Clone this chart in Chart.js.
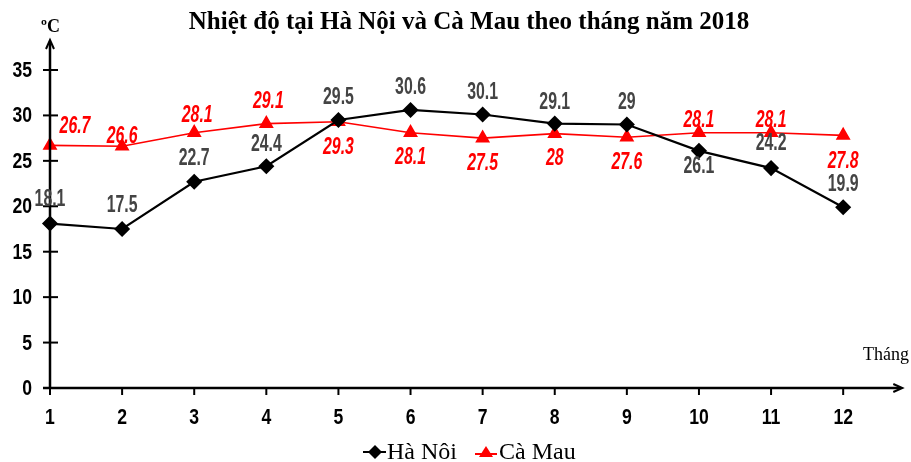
<!DOCTYPE html>
<html>
<head>
<meta charset="utf-8">
<script src="https://cdn.jsdelivr.net/npm/chart.js@4/dist/chart.umd.min.js"></script>
<style>
  html, body { margin: 0; padding: 0; background: #fff; }
  #wrap { width: 911px; height: 462px; }
</style>
</head>
<body>
<div id="wrap"><canvas id="chart"></canvas></div>
<script>
// data
const months = [1, 2, 3, 4, 5, 6, 7, 8, 9, 10, 11, 12];
const haNoi = [18.1, 17.5, 22.7, 24.4, 29.5, 30.6, 30.1, 29.1, 29, 26.1, 24.2, 19.9];
const caMau = [26.7, 26.6, 28.1, 29.1, 29.3, 28.1, 27.5, 28, 27.6, 28.1, 28.1, 27.8];
const yTicks = [0, 5, 10, 15, 20, 25, 30, 35];
const chartTitle = 'Nhiệt độ tại Hà Nội và Cà Mau theo tháng năm 2018';
const legendNames = ['Hà Nôi', 'Cà Mau'];

// label offsets (px) from each point
const haNoiLabelPos = [[0,-24],[0,-24],[0,-23],[0,-22],[0,-23],[0,-23],[0,-22],[0,-21],[0,-22],[0,16],[0,-25],[0,-23]];
const caMauLabelPos = [[25,-19],[0,-10],[3,-17],[2,-22],[0,26],[0,25],[0,25],[0,25],[0,25],[0,-12],[0,-12],[0,26]];

const sans = '"Liberation Sans", Arial, sans-serif';
const serif = '"Liberation Serif", "DejaVu Serif", serif';

// condensed text: squeeze a normal face horizontally
function narrowText(ctx, text, x, y, sx) {
  ctx.save();
  ctx.translate(x, y);
  ctx.scale(sx, 1);
  ctx.fillText(text, 0, 0);
  ctx.restore();
}

const decor = {
  id: 'decor',
  afterDatasetsDraw(chart) {
    const ctx = chart.ctx;
    const xs = chart.scales.x, ys = chart.scales.y;
    const a = chart.chartArea;
    const x0 = xs.getPixelForValue(1), y0 = ys.getPixelForValue(0);
    ctx.save();
    ctx.strokeStyle = '#000';
    ctx.fillStyle = '#000';
    ctx.lineWidth = 2.5;
    // axes
    ctx.beginPath();
    ctx.moveTo(x0, y0); ctx.lineTo(x0, a.top + 2);
    ctx.moveTo(x0 - 7, y0); ctx.lineTo(a.right - 2, y0);
    ctx.stroke();
    ctx.lineWidth = 2;
    ctx.beginPath();
    ctx.moveTo(x0 - 4, a.top + 9); ctx.lineTo(x0, a.top); ctx.lineTo(x0 + 4, a.top + 9);
    ctx.moveTo(a.right - 9, y0 - 4); ctx.lineTo(a.right, y0); ctx.lineTo(a.right - 9, y0 + 4);
    ctx.stroke();
    // y ticks
    ctx.font = 'bold 22px ' + sans;
    ctx.textAlign = 'right';
    ctx.textBaseline = 'middle';
    yTicks.forEach(v => {
      const y = ys.getPixelForValue(v);
      ctx.beginPath(); ctx.moveTo(x0 - 7, y); ctx.lineTo(x0 + 8, y); ctx.stroke();
      narrowText(ctx, String(v), x0 - 18, y + 1, 0.8);
    });
    // x ticks
    ctx.textAlign = 'center';
    months.forEach(m => {
      const x = xs.getPixelForValue(m);
      ctx.beginPath(); ctx.moveTo(x, y0); ctx.lineTo(x, y0 + 7); ctx.stroke();
      narrowText(ctx, String(m), x, y0 + 30, 0.8);
    });
    // unit labels
    ctx.font = 'bold 18px ' + serif;
    ctx.textAlign = 'left';
    ctx.textBaseline = 'middle';
    ctx.fillText('ºC', x0 - 9, 27);
    ctx.font = '18px ' + serif;
    ctx.fillText('Tháng', 863, 355);
    // title
    ctx.font = 'bold 25px ' + serif;
    ctx.textAlign = 'center';
    ctx.fillText(chartTitle, 469, 23);
    // value labels
    const metaH = chart.getDatasetMeta(0), metaC = chart.getDatasetMeta(1);
    ctx.textBaseline = 'middle';
    ctx.font = 'bold 24px ' + sans;
    ctx.fillStyle = '#444';
    metaH.data.forEach((p, i) => {
      const o = haNoiLabelPos[i];
      narrowText(ctx, String(haNoi[i]), p.x + o[0], p.y + o[1], 0.66);
    });
    ctx.font = 'italic bold 24px ' + sans;
    ctx.fillStyle = '#ff0000';
    metaC.data.forEach((p, i) => {
      const o = caMauLabelPos[i];
      narrowText(ctx, String(caMau[i]), p.x + o[0], p.y + o[1], 0.66);
    });
    // legend
    const ly = 452;
    ctx.font = '24px ' + serif;
    ctx.textAlign = 'left';
    ctx.fillStyle = '#000';
    let lx = 363;
    ctx.strokeStyle = '#000'; ctx.lineWidth = 2;
    ctx.beginPath(); ctx.moveTo(lx, ly); ctx.lineTo(lx + 23, ly); ctx.stroke();
    ctx.beginPath(); ctx.moveTo(lx + 12, ly - 7); ctx.lineTo(lx + 19, ly); ctx.lineTo(lx + 12, ly + 7); ctx.lineTo(lx + 5, ly); ctx.closePath(); ctx.fill();
    ctx.fillText(legendNames[0], lx + 24, ly + 1);
    lx = 475;
    ctx.strokeStyle = '#ff0000'; ctx.fillStyle = '#ff0000';
    ctx.beginPath(); ctx.moveTo(lx, ly + 2); ctx.lineTo(lx + 22, ly + 2); ctx.stroke();
    ctx.beginPath(); ctx.moveTo(lx + 11, ly - 6); ctx.lineTo(lx + 18, ly + 5); ctx.lineTo(lx + 4, ly + 5); ctx.closePath(); ctx.fill();
    ctx.fillStyle = '#000';
    ctx.fillText(legendNames[1], lx + 24, ly + 1);
    ctx.restore();
  }
};

new Chart(document.getElementById('chart'), {
  type: 'line',
  data: {
    labels: months,
    datasets: [
      {
        label: legendNames[0],
        data: months.map((m, i) => ({ x: m, y: haNoi[i] })),
        borderColor: '#000',
        backgroundColor: '#000',
        borderWidth: 2.2,
        pointStyle: 'rectRot',
        pointRadius: 6.5,
        pointHoverRadius: 6.5,
        tension: 0,
        clip: false
      },
      {
        label: legendNames[1],
        data: months.map((m, i) => ({ x: m, y: caMau[i] })),
        borderColor: '#ff0000',
        backgroundColor: '#ff0000',
        borderWidth: 1.6,
        pointStyle: 'triangle',
        pointRadius: 7,
        pointHoverRadius: 7,
        tension: 0,
        clip: false
      }
    ]
  },
  options: {
    responsive: true,
    maintainAspectRatio: false,
    animation: false,
    layout: { padding: { left: 50, right: 0, top: 40, bottom: 74 } },
    plugins: {
      legend: { display: false },
      tooltip: { enabled: false },
      title: { display: false }
    },
    scales: {
      x: { type: 'linear', min: 1, max: 12.82, display: false },
      y: { type: 'linear', min: 0, max: 38.3, display: false }
    }
  },
  plugins: [decor]
});
</script>
</body>
</html>
